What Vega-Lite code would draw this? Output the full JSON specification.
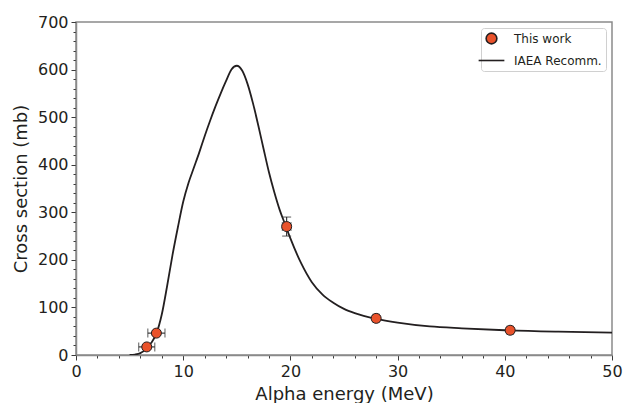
{
  "$schema": "https://vega.github.io/schema/vega-lite/v6.json",
  "autosize": {"type": "none"},
  "width": 536,
  "height": 333,
  "padding": {"left": 76, "top": 22, "right": 13, "bottom": 48},
  "background": "white",
  "config": {
    "font": "DejaVu Sans",
    "view": {"stroke": "#8a8a8a", "strokeWidth": 1.5},
    "axis": {
      "grid": false,
      "domainColor": "#8a8a8a",
      "domainWidth": 1.5,
      "tickColor": "#3a3a3a",
      "tickWidth": 1,
      "labelColor": "#231f20",
      "labelFontSize": 16,
      "labelFont": "DejaVu Sans",
      "titleColor": "#231f20",
      "titleFontSize": 18,
      "titleFontWeight": "normal",
      "titleFont": "DejaVu Sans",
      "labelPadding": 3
    }
  },
  "resolve": {"axis": {"x": "independent", "y": "independent"}},
  "datasets": {
    "curve": [
      {"E": 5.0, "S": 0}, {"E": 5.5, "S": 1}, {"E": 6.0, "S": 4}, {"E": 6.5, "S": 12},
      {"E": 7.0, "S": 25}, {"E": 7.5, "S": 45}, {"E": 8.0, "S": 85}, {"E": 8.5, "S": 145},
      {"E": 9.0, "S": 210}, {"E": 9.5, "S": 268}, {"E": 10.0, "S": 322}, {"E": 10.5, "S": 362},
      {"E": 11.0, "S": 394}, {"E": 11.5, "S": 426}, {"E": 12.0, "S": 460}, {"E": 12.5, "S": 492},
      {"E": 13.0, "S": 522}, {"E": 13.5, "S": 550}, {"E": 14.0, "S": 576}, {"E": 14.5, "S": 600},
      {"E": 15.0, "S": 608}, {"E": 15.5, "S": 598}, {"E": 16.0, "S": 570}, {"E": 16.5, "S": 530},
      {"E": 17.0, "S": 483}, {"E": 17.5, "S": 433}, {"E": 18.0, "S": 384}, {"E": 18.5, "S": 342},
      {"E": 19.0, "S": 305}, {"E": 19.5, "S": 275}, {"E": 20.0, "S": 245}, {"E": 21.0, "S": 193},
      {"E": 22.0, "S": 153}, {"E": 23.0, "S": 127}, {"E": 24.0, "S": 110}, {"E": 25.0, "S": 97},
      {"E": 26.0, "S": 88}, {"E": 28.0, "S": 76}, {"E": 30.0, "S": 68}, {"E": 33.0, "S": 60},
      {"E": 36.0, "S": 56}, {"E": 40.0, "S": 52}, {"E": 45.0, "S": 49}, {"E": 50.0, "S": 47}
    ],
    "meas": [
      {"series": "This work", "E": 6.6, "S": 17, "Elo": 5.85, "Ehi": 7.35, "Slo": 14, "Shi": 20},
      {"series": "This work", "E": 7.5, "S": 46, "Elo": 6.7, "Ehi": 8.3, "Slo": 42, "Shi": 50},
      {"series": "This work", "E": 19.65, "S": 270, "Elo": 19.25, "Ehi": 20.05, "Slo": 250, "Shi": 290},
      {"series": "This work", "E": 28.0, "S": 77, "Elo": 27.7, "Ehi": 28.3, "Slo": 72, "Shi": 82},
      {"series": "This work", "E": 40.5, "S": 52, "Elo": 40.2, "Ehi": 40.8, "Slo": 47, "Shi": 57}
    ]
  },
  "layer": [
    {
      "data": {"name": "curve"},
      "mark": {"type": "point", "opacity": 0},
      "encoding": {
        "x": {
          "field": "E", "type": "quantitative",
          "scale": {"domain": [0, 50], "nice": false, "zero": false},
          "axis": {
            "orient": "bottom", "title": null, "labels": false, "domain": false,
            "values": [2,4,6,8,12,14,16,18,22,24,26,28,32,34,36,38,42,44,46,48],
            "tickSize": 3
          }
        },
        "y": {
          "field": "S", "type": "quantitative",
          "scale": {"domain": [0, 700], "nice": false},
          "axis": {
            "orient": "left", "title": null, "labels": false, "domain": false,
            "values": [20,40,60,80,120,140,160,180,220,240,260,280,320,340,360,380,420,440,460,480,520,540,560,580,620,640,660,680],
            "tickSize": 3
          }
        }
      }
    },
    {
      "data": {"name": "curve"},
      "mark": {"type": "line", "color": "#231f20", "strokeWidth": 1.8, "interpolate": "monotone", "clip": true},
      "encoding": {
        "x": {
          "field": "E", "type": "quantitative",
          "axis": {
            "orient": "bottom",
            "title": "Alpha energy (MeV)",
            "values": [0, 10, 20, 30, 40, 50],
            "tickSize": 5,
            "titlePadding": 6,
            "labelFlush": false
          }
        },
        "y": {
          "field": "S", "type": "quantitative",
          "axis": {
            "orient": "left",
            "title": "Cross section (mb)",
            "values": [0, 100, 200, 300, 400, 500, 600, 700],
            "tickSize": 5,
            "titlePadding": 7,
            "labelFlush": false
          }
        }
      }
    },
    {
      "data": {"name": "meas"},
      "mark": {"type": "rule", "color": "#2a2a2a", "strokeWidth": 1.1},
      "encoding": {
        "x": {"field": "Elo", "type": "quantitative", "axis": null},
        "x2": {"field": "Ehi"},
        "y": {"field": "S", "type": "quantitative", "axis": null}
      }
    },
    {
      "data": {"name": "meas"},
      "mark": {"type": "rule", "color": "#2a2a2a", "strokeWidth": 1.1},
      "encoding": {
        "x": {"field": "E", "type": "quantitative", "axis": null},
        "y": {"field": "Slo", "type": "quantitative", "axis": null},
        "y2": {"field": "Shi"}
      }
    },
    {
      "data": {"name": "meas"},
      "mark": {"type": "tick", "orient": "vertical", "color": "#2a2a2a", "thickness": 1.1, "size": 9},
      "encoding": {
        "x": {"field": "Elo", "type": "quantitative", "axis": null},
        "y": {"field": "S", "type": "quantitative", "axis": null}
      }
    },
    {
      "data": {"name": "meas"},
      "mark": {"type": "tick", "orient": "vertical", "color": "#2a2a2a", "thickness": 1.1, "size": 9},
      "encoding": {
        "x": {"field": "Ehi", "type": "quantitative", "axis": null},
        "y": {"field": "S", "type": "quantitative", "axis": null}
      }
    },
    {
      "data": {"name": "meas"},
      "mark": {"type": "tick", "orient": "horizontal", "color": "#2a2a2a", "thickness": 1.1, "size": 9},
      "encoding": {
        "x": {"field": "E", "type": "quantitative", "axis": null},
        "y": {"field": "Slo", "type": "quantitative", "axis": null}
      }
    },
    {
      "data": {"name": "meas"},
      "mark": {"type": "tick", "orient": "horizontal", "color": "#2a2a2a", "thickness": 1.1, "size": 9},
      "encoding": {
        "x": {"field": "E", "type": "quantitative", "axis": null},
        "y": {"field": "Shi", "type": "quantitative", "axis": null}
      }
    },
    {
      "data": {"name": "meas"},
      "mark": {"type": "point", "filled": true, "size": 100, "stroke": "#231f20", "strokeWidth": 1, "opacity": 1},
      "encoding": {
        "x": {"field": "E", "type": "quantitative", "axis": null},
        "y": {"field": "S", "type": "quantitative", "axis": null},
        "color": {
          "field": "series", "type": "nominal",
          "scale": {"domain": ["This work", "IAEA Recomm."], "range": ["#e9522b", "#231f20"]},
          "legend": {
            "title": null,
            "orient": "top-right",
            "offset": 6,
            "padding": 4,
            "strokeColor": "#d0d0d0",
            "fillColor": "white",
            "cornerRadius": 3,
            "labelFontSize": 12,
            "labelColor": "#231f20",
            "labelFont": "DejaVu Sans",
            "symbolSize": 115,
            "symbolStrokeColor": "#231f20",
            "symbolStrokeWidth": 1.6,
            "symbolOpacity": 1,
            "rowPadding": 6,
            "labelOffset": 16
          }
        },
        "shape": {
          "field": "series", "type": "nominal",
          "scale": {"domain": ["This work", "IAEA Recomm."], "range": ["circle", "M-2.4,0L2.4,0"]},
          "legend": null
        }
      }
    }
  ]
}
